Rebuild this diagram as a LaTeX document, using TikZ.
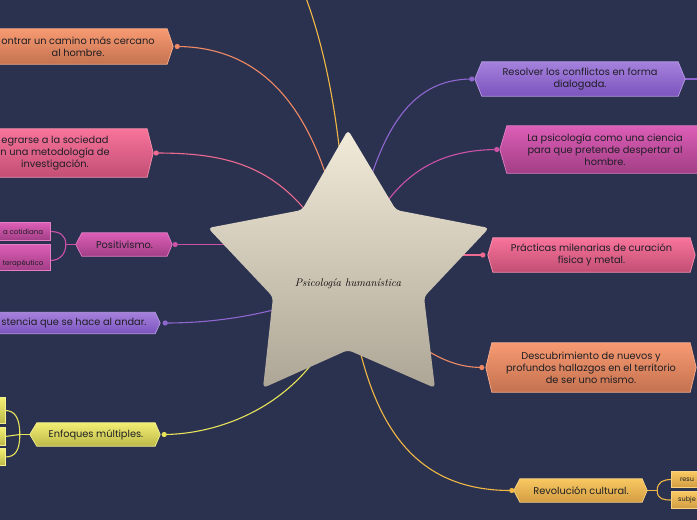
\documentclass[tikz,border=0pt]{standalone}
\usepackage{fontspec}
\setsansfont{Poppins}
\renewcommand{\familydefault}{\sfdefault}
\usetikzlibrary{calc}
\pgfdeclarelayer{bgl}
\pgfdeclarelayer{lines}
\pgfdeclarelayer{shapes}
\pgfsetlayers{bgl,lines,shapes,main}
\definecolor{bgc}{HTML}{2B3250}
\definecolor{Ot}{HTML}{F79A72}\definecolor{Ob}{HTML}{C4724F}\definecolor{Ol}{HTML}{F08A64}
\definecolor{Pt}{HTML}{F8749B}\definecolor{Pb}{HTML}{C24E74}\definecolor{Pl}{HTML}{EE6A90}
\definecolor{Mt}{HTML}{DC5EB6}\definecolor{Mb}{HTML}{A23E86}\definecolor{Ml}{HTML}{CC52A8}
\definecolor{Ut}{HTML}{A581DD}\definecolor{Ub}{HTML}{7B54BD}\definecolor{Ul}{HTML}{8F66D0}
\definecolor{Yt}{HTML}{F2EE72}\definecolor{Yb}{HTML}{BDB94A}\definecolor{Yl}{HTML}{E8E45A}
\definecolor{Gt}{HTML}{F8C862}\definecolor{Gb}{HTML}{D39D42}\definecolor{Gl}{HTML}{F2B845}
\definecolor{starT}{HTML}{F3EBD9}\definecolor{starB}{HTML}{ADA595}
\definecolor{ink}{HTML}{1E1E24}
\tikzset{
  boxtxt/.style={inner sep=0pt,align=center,text=ink,font=\fontsize{9.8}{12}\selectfont},
  conn/.style={line width=1.1pt},
}
\newcommand\hexnode[9]{%
  \node[boxtxt,minimum width=#4pt,minimum height=#5pt] (#1) at (#2,#3) {#9};
  \begin{pgfonlayer}{shapes}
    \shade[top color=#8t,bottom color=#8b,draw=#8t!80!white,line width=0.7pt]
      (#1.north west) -- (#1.north east) -- ([xshift=#7pt]#1.east) -- (#1.south east)
      -- (#1.south west) -- ([xshift=-#6pt]#1.west) -- cycle;
  \end{pgfonlayer}}
\begin{document}
\begin{tikzpicture}[x=1pt,y=-1pt]
\useasboundingbox (0,0) rectangle (697,520);
\begin{pgfonlayer}{bgl}
  \fill[bgc] (-20,-20) rectangle (720,540);
\end{pgfonlayer}

% central star
\node[text=black,font=\rmfamily\itshape\fontsize{11}{12}\selectfont] (star) at (348,284) {Psicología humanística};
\begin{pgfonlayer}{shapes}
  \shade[top color=starT,bottom color=starB,rounded corners=4pt]
    (348,130) -- (396,210) -- (489,228) -- (424,297) -- (435,388) -- (348,350)
    -- (263,388) -- (273,297) -- (208,228) -- (302,210) -- cycle;
\end{pgfonlayer}

% left branch nodes
\hexnode{oA}{78}{46.5}{178}{35}{0}{6}{O}{ontrar un camino más cercano\\al hombre.}
\hexnode{pB}{55}{153}{184}{48}{0}{6}{P}{egrarse a la sociedad\\n una metodología de\\investigación.}
\hexnode{mC}{124.5}{244.5}{85}{23}{6}{5}{M}{Positivismo.}
\hexnode{mC1}{23}{231.5}{54}{17}{0}{0}{M}{\fontsize{7}{8}\selectfont a cotidiana}
\hexnode{mC2}{23}{257.5}{54}{25}{0}{0}{M}{\fontsize{7}{8.5}\selectfont\strut\\\fontsize{7}{8.5}\selectfont terapéutico}
\hexnode{uE}{74}{323}{162}{21}{0}{5}{U}{stencia que se hace al andar.}
\hexnode{yF}{96}{434.5}{118}{23}{7}{5}{Y}{Enfoques múltiples.}
\hexnode{yG1}{-15}{410.5}{40}{25}{0}{0}{Y}{}
\hexnode{yG2}{-15}{436.5}{40}{17}{0}{0}{Y}{}
\hexnode{yG3}{-15}{457}{40}{16}{0}{0}{Y}{}

% right branch nodes
\hexnode{uH}{580}{79}{196}{34}{7}{7}{U}{Resolver los conflictos en forma\\dialogada.}
\hexnode{mI}{605}{149.5}{196}{47}{7}{7}{M}{La psicología como una ciencia\\para que pretende despertar al\\hombre.}
\hexnode{pJ}{591.5}{255}{197}{34}{5}{5}{P}{Prácticas milenarias de curación\\física y metal.}
\hexnode{oK}{591}{367.5}{198}{49}{6}{6}{O}{Descubrimiento de nuevos y\\profundos hallazgos en el territorio\\de ser uno mismo.}
\hexnode{gL}{581}{490.5}{122}{23}{6}{5}{G}{Revolución cultural.}
\hexnode{gM1}{687}{479.5}{30}{15}{0}{0}{G}{\fontsize{6.5}{8}\selectfont resu}
\hexnode{gM2}{687}{500}{30}{16}{0}{0}{G}{\fontsize{6.5}{8}\selectfont subje}

% dot positions
\coordinate (dA) at ([xshift=10pt]oA.east);
\coordinate (dB) at ([xshift=9pt]pB.east);
\coordinate (dC) at ([xshift=8pt]mC.east);
\coordinate (dE) at ([xshift=10pt]uE.east);
\coordinate (dF) at ([xshift=9pt]yF.east);
\coordinate (dH) at ([xshift=-10pt]uH.west);
\coordinate (dI) at ([xshift=-10pt]mI.west);
\coordinate (dJ) at ([xshift=-10pt]pJ.west);
\coordinate (dK) at ([xshift=-10pt]oK.west);
\coordinate (dL) at ([xshift=-8pt]gL.west);
\coordinate (topend) at (303,-10);
\coordinate (cPos) at (300,244.5);
\coordinate (cPr) at (400,255);
\coordinate (rightend) at (710,79);

\begin{pgfonlayer}{lines}
  \draw[Ol,conn] (dA) .. controls (270,47) and (330,120) .. (star.center);
  \draw[Gl,conn] (topend) .. controls (330,60) and (345,150) .. (star.center);
  \draw[Pl,conn] (dB) .. controls (240,153) and (300,170) .. (star.center);
  \draw[Ml,conn] (dC) -- (cPos);
  \draw[Ul,conn] (dE) .. controls (230,323) and (290,310) .. (star.center);
  \draw[Yl,conn] (dF) .. controls (230,434) and (325,395) .. (star.center);
  \draw[Ul,conn] (dH) .. controls (410,79) and (370,130) .. (star.center);
  \draw[Ul,conn] ([xshift=7pt]uH.east) -- (rightend);
  \draw[Ml,conn] (dI) .. controls (430,150) and (380,180) .. (star.center);
  \draw[Pl,conn] (dJ) -- (cPr);
  \draw[Ol,conn] (dK) .. controls (450,367) and (420,355) .. (star.center);
  \draw[Gl,conn] (dL) .. controls (410,491) and (365,420) .. (star.center);
  % brackets
  \draw[Ml,conn] ([xshift=-6pt]mC.west) -- ++(-10,0) coordinate (bm);
  \draw[Ml,conn] (bm) .. controls +(0,-9) and +(10,0) .. (mC1.east);
  \draw[Ml,conn] (bm) .. controls +(0,9) and +(10,0) .. ([yshift=-3pt]mC2.east);
  \draw[Yl,conn] ([xshift=-7pt]yF.west) -- ++(-10,0) coordinate (by);
  \draw[Yl,conn] (by) .. controls +(0,-16) and +(10,0) .. (yG1.east);
  \draw[Yl,conn] (by) -- (yG2.east);
  \draw[Yl,conn] (by) .. controls +(0,16) and +(10,0) .. (yG3.east);
  \draw[Gl,conn] ([xshift=5pt]gL.east) -- ++(10,0) coordinate (bgo);
  \draw[Gl,conn] (bgo) .. controls +(0,-9) and +(-8,0) .. (gM1.west);
  \draw[Gl,conn] (bgo) .. controls +(0,9) and +(-8,0) .. (gM2.west);
\end{pgfonlayer}

\begin{pgfonlayer}{shapes}
  \fill[Ol] (dA) circle (2.6);
  \fill[Pl] (dB) circle (2.6);
  \fill[Ml] (dC) circle (2.6);
  \fill[Ul] (dE) circle (2.6);
  \fill[Yl] (dF) circle (2.6);
  \fill[Ul] (dH) circle (2.6);
  \fill[Ml] (dI) circle (2.6);
  \fill[Pl] (dJ) circle (2.6);
  \fill[Ol] (dK) circle (2.6);
  \fill[Gl] (dL) circle (2.6);
\end{pgfonlayer}
\end{tikzpicture}
\end{document}
